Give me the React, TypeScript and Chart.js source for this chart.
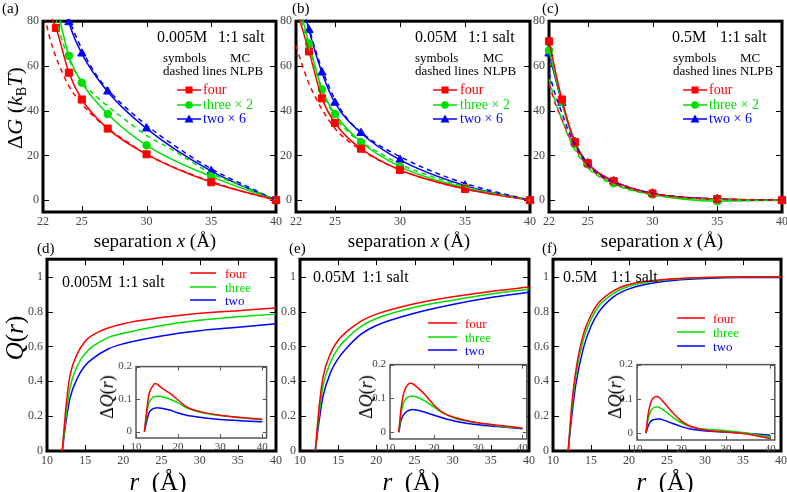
import React, { useEffect, useRef } from 'react';
import { Chart, registerables } from 'chart.js';

Chart.register(...registerables);

const SERIF = '"Liberation Serif", "DejaVu Serif", serif';
const RED = '#ff0000';
const GREEN = '#00dd00';
const BLUE = '#0000ff';
const TICK_COLOR = '#444444';

// ---------- top row: free energy ΔG (kBT) vs separation x ----------
const xMC = [22, 23, 24, 25, 27, 30, 35, 40];
const aFourMC = [88, 77, 57, 45, 32, 20.5, 8, 0];
const aThreeMC = [110, 88, 64.5, 52.5, 38.5, 24.5, 10.5, 0];
const aTwoMC = [130, 105, 79.5, 65.5, 48.5, 32, 13, 0];
const bFourMC = [86, 66.5, 45.5, 34.5, 23, 13.5, 5, 0];
const bThreeMC = [92, 70, 49.5, 38.5, 26, 15, 5.5, 0];
const bTwoMC = [100, 76, 57, 43.5, 30, 18, 6.5, 0];
const cFourMC = [71, 45, 26, 16.5, 8.5, 3, 0.5, 0];
const cThreeMC = [67, 44, 25, 16, 7.5, 2.5, -0.5, 0];
const cTwoMC = [65.5, 43.5, 26, 16.5, 8.5, 3, 0.5, 0];

const xNL = [22, 22.5, 23, 23.5, 24, 25, 26, 27, 28, 30, 32, 35, 38, 40];
const aFourNL = [86, 73, 64, 57, 51, 43, 37, 32, 28, 20.5, 15, 8.3, 3, 0];
const aThreeNL = [105, 92, 81, 71, 63, 53, 47, 42, 37.5, 29, 22.5, 12, 5, 0];
const aTwoNL = [125, 110, 98, 89, 81, 67.5, 57, 49.5, 43.5, 33.5, 25, 14, 5.5, 0];
const bFourNL = [69, 60, 52, 46, 40.5, 32, 26.5, 22.5, 19, 13.5, 9.5, 5, 1.8, 0];
const bThreeNL = [88, 78, 68, 58, 49, 37.5, 30.5, 26, 22.5, 16, 11.5, 6, 2.2, 0];
const bTwoNL = [98, 86, 77, 67, 58.5, 45, 36, 30.5, 26, 19.5, 14, 7.5, 2.8, 0];
const cFourNL = [52, 43, 36, 29, 23.5, 15, 10.5, 7.5, 5.5, 2.8, 1.3, 0.4, 0.1, 0];
const cThreeNL = [54, 44, 36, 28.5, 22.5, 14.5, 10, 7, 5, 2.3, 1, 0.2, 0, 0];
const cTwoNL = [57, 47, 39, 31, 25, 16, 11, 8, 5.8, 3, 1.5, 0.5, 0.1, 0];

const topXTicks = [22, 25, 30, 35, 40];
const topYTicks = [0, 20, 40, 60, 80];

// ---------- bottom row: Q(r) ----------
const rMain = [12, 12.5, 13, 14, 15, 16, 18, 20, 25, 30, 35, 40];
const dFourQ = [0, 0.26, 0.43, 0.56, 0.63, 0.665, 0.705, 0.73, 0.765, 0.79, 0.805, 0.82];
const dThreeQ = [0, 0.2, 0.36, 0.49, 0.56, 0.6, 0.65, 0.675, 0.72, 0.75, 0.77, 0.785];
const dTwoQ = [0, 0.17, 0.3, 0.42, 0.49, 0.53, 0.585, 0.615, 0.66, 0.69, 0.71, 0.73];
const eFourQ = [0, 0.25, 0.42, 0.56, 0.635, 0.68, 0.745, 0.785, 0.845, 0.885, 0.915, 0.94];
const eThreeQ = [0, 0.21, 0.37, 0.51, 0.59, 0.64, 0.715, 0.76, 0.825, 0.865, 0.9, 0.928];
const eTwoQ = [0, 0.17, 0.31, 0.45, 0.53, 0.585, 0.67, 0.72, 0.79, 0.84, 0.88, 0.91];
const fFourQ = [0, 0.28, 0.46, 0.67, 0.78, 0.85, 0.92, 0.955, 0.985, 0.995, 1.0, 1.0];
const fThreeQ = [0, 0.25, 0.43, 0.64, 0.755, 0.83, 0.905, 0.945, 0.982, 0.995, 0.999, 1.0];
const fTwoQ = [0, 0.21, 0.38, 0.59, 0.715, 0.795, 0.885, 0.93, 0.975, 0.99, 0.995, 0.995];

const mainXTicks = [10, 15, 20, 25, 30, 35, 40];
const mainYTicks = [0, 0.2, 0.4, 0.6, 0.8, 1];

// ---------- insets: ΔQ(r) ----------
const rInset = [12, 12.5, 13, 13.5, 14, 14.5, 15, 16, 18, 20, 22, 25, 30, 35, 40];
const dFourDQ = [0, 0.06, 0.11, 0.13, 0.14, 0.148, 0.146, 0.135, 0.118, 0.097, 0.076, 0.062, 0.05, 0.043, 0.038];
const dThreeDQ = [0, 0.05, 0.085, 0.098, 0.105, 0.108, 0.109, 0.108, 0.1, 0.088, 0.073, 0.06, 0.049, 0.042, 0.036];
const dTwoDQ = [0, 0.03, 0.055, 0.065, 0.07, 0.072, 0.073, 0.072, 0.066, 0.057, 0.05, 0.044, 0.037, 0.033, 0.03];
const eFourDQ = [0, 0.07, 0.11, 0.13, 0.14, 0.145, 0.144, 0.135, 0.11, 0.08, 0.058, 0.042, 0.028, 0.02, 0.012];
const eThreeDQ = [0, 0.055, 0.085, 0.097, 0.103, 0.106, 0.107, 0.104, 0.092, 0.074, 0.057, 0.04, 0.027, 0.018, 0.012];
const eTwoDQ = [0, 0.035, 0.05, 0.058, 0.063, 0.066, 0.067, 0.066, 0.059, 0.05, 0.042, 0.032, 0.022, 0.016, 0.01];
const fFourDQ = [0, 0.055, 0.085, 0.1, 0.106, 0.107, 0.104, 0.09, 0.06, 0.035, 0.02, 0.01, 0.003, -0.003, -0.016];
const fThreeDQ = [0, 0.04, 0.062, 0.072, 0.076, 0.077, 0.075, 0.067, 0.047, 0.03, 0.019, 0.012, 0.007, 0.0, -0.012];
const fTwoDQ = [0, 0.02, 0.033, 0.038, 0.04, 0.041, 0.041, 0.038, 0.028, 0.019, 0.012, 0.007, 0.003, -0.001, -0.006];

const insetXTicks = [10, 20, 30, 40];
const insetYTicks = [0, 0.1, 0.2];

// ---------- helpers ----------
type Rect = { l: number; t: number; r: number; b: number };

const pts = (xs: number[], ys: number[]) => xs.map((x, i) => ({ x, y: ys[i] }));

const mcSet = (xs: number[], ys: number[], color: string, style: string, radius: number) => ({
  data: pts(xs, ys),
  borderColor: color,
  backgroundColor: color,
  borderWidth: 1.5,
  pointStyle: style,
  pointRadius: radius,
  pointBorderWidth: 1,
  pointBackgroundColor: color,
  pointBorderColor: color,
  cubicInterpolationMode: 'monotone',
  clip: { left: 8, right: 8, top: 2, bottom: 8 },
});

const dashSet = (xs: number[], ys: number[], color: string) => ({
  data: pts(xs, ys),
  borderColor: color,
  borderWidth: 1.5,
  borderDash: [5, 4],
  pointRadius: 0,
  cubicInterpolationMode: 'monotone',
  clip: { left: 2, right: 2, top: 1, bottom: 2 },
});

const lineSet = (xs: number[], ys: number[], color: string) => ({
  data: pts(xs, ys),
  borderColor: color,
  borderWidth: 1.5,
  pointRadius: 0,
  cubicInterpolationMode: 'monotone',
  clip: { left: 2, right: 2, top: 1, bottom: 2 },
});

const makeFrame = (xTicks: number[], yTicks: number[], inset: boolean) => ({
  id: 'frame',
  beforeDatasetsDraw(chart: any) {
    const { ctx, chartArea: a, scales } = chart;
    ctx.save();
    if (inset) {
      ctx.fillStyle = '#ffffff';
      ctx.fillRect(a.left, a.top, a.right - a.left, a.bottom - a.top);
    }
    const tl = inset ? 4 : 6;
    ctx.strokeStyle = inset ? '#555555' : '#000000';
    ctx.lineWidth = 1;
    ctx.beginPath();
    for (const v of xTicks) {
      const px = Math.round(scales.x.getPixelForValue(v)) + 0.5;
      ctx.moveTo(px, a.bottom);
      ctx.lineTo(px, a.bottom - tl);
      ctx.moveTo(px, a.top);
      ctx.lineTo(px, a.top + tl);
    }
    for (const v of yTicks) {
      const py = Math.round(scales.y.getPixelForValue(v)) + 0.5;
      ctx.moveTo(a.left, py);
      ctx.lineTo(a.left + tl, py);
      ctx.moveTo(a.right, py);
      ctx.lineTo(a.right - tl, py);
    }
    ctx.stroke();
    ctx.lineWidth = inset ? 1.5 : 3;
    ctx.strokeRect(a.left, a.top, a.right - a.left, a.bottom - a.top);
    ctx.restore();
  },
});

interface PanelProps {
  rect: Rect;
  datasets: any[];
  xMin: number;
  xMax: number;
  yMin: number;
  yMax: number;
  xTicks: number[];
  yTicks: number[];
  fmtY: (v: number) => string;
  inset?: boolean;
}

function Panel(p: PanelProps) {
  const ref = useRef<HTMLCanvasElement>(null);
  const inset = !!p.inset;
  const axW = inset ? 26 : 30;
  const axH = inset ? 15 : 20;
  const padT = inset ? 4 : 10;
  const padR = inset ? 4 : 10;
  const W = p.rect.r - p.rect.l + axW + padR;
  const H = p.rect.b - p.rect.t + axH + padT;
  useEffect(() => {
    if (!ref.current) return;
    const font = { family: SERIF, size: inset ? 11 : 12 };
    const chart = new Chart(ref.current, {
      type: 'line',
      data: { datasets: p.datasets },
      options: {
        responsive: false,
        animation: false,
        devicePixelRatio: 1,
        events: [],
        layout: { padding: { left: 0, top: padT, right: padR, bottom: 0 } },
        plugins: { legend: { display: false }, tooltip: { enabled: false } },
        scales: {
          x: {
            type: 'linear',
            min: p.xMin,
            max: p.xMax,
            afterBuildTicks: (s: any) => {
              s.ticks = p.xTicks.map((v) => ({ value: v }));
            },
            afterFit: (s: any) => {
              s.height = axH;
            },
            grid: { display: false, drawTicks: false },
            border: { display: false },
            ticks: {
              font,
              color: TICK_COLOR,
              padding: 3,
              maxRotation: 0,
              autoSkip: false,
              callback: (v: any) => String(v),
            },
          },
          y: {
            type: 'linear',
            min: p.yMin,
            max: p.yMax,
            afterBuildTicks: (s: any) => {
              s.ticks = p.yTicks.map((v) => ({ value: v }));
            },
            afterFit: (s: any) => {
              s.width = axW;
            },
            grid: { display: false, drawTicks: false },
            border: { display: false },
            ticks: {
              font,
              color: TICK_COLOR,
              padding: 4,
              autoSkip: false,
              callback: (v: any) => p.fmtY(Number(v)),
            },
          },
        },
      } as any,
      plugins: [makeFrame(p.xTicks, p.yTicks, inset)],
    });
    return () => chart.destroy();
  }, []);
  return (
    <canvas
      ref={ref}
      width={W}
      height={H}
      style={{ position: 'absolute', left: p.rect.l - axW, top: p.rect.t - padT, width: W, height: H }}
    />
  );
}

const fmtInt = (v: number) => String(v);
const fmtDec = (v: number) => (v === 0 ? '0' : v === 1 ? '1' : v.toFixed(1));

function Txt(props: {
  x: number;
  y: number;
  size: number;
  color?: string;
  center?: boolean;
  rotate?: boolean;
  children: any;
}) {
  const tr = props.rotate
    ? 'translate(-50%,-50%) rotate(-90deg)'
    : props.center
    ? 'translate(-50%,-50%)'
    : 'translateY(-50%)';
  return (
    <div
      style={{
        position: 'absolute',
        left: props.x,
        top: props.y,
        transform: tr,
        fontFamily: SERIF,
        fontSize: props.size,
        lineHeight: 1,
        whiteSpace: 'nowrap',
        color: props.color || '#000',
      }}
    >
      {props.children}
    </div>
  );
}

function MarkerSample(props: { x: number; y: number; color: string; shape: string; w: number }) {
  const { color, shape, w } = props;
  const cx = w / 2;
  let marker: any = null;
  if (shape === 'rect') marker = <rect x={cx - 3.5} y={2.5} width={7} height={7} fill={color} />;
  else if (shape === 'circle') marker = <circle cx={cx} cy={6} r={3.8} fill={color} />;
  else marker = <polygon points={`${cx},1.5 ${cx + 4.5},9.5 ${cx - 4.5},9.5`} fill={color} />;
  return (
    <svg width={w} height={12} style={{ position: 'absolute', left: props.x, top: props.y - 6 }}>
      <line x1={0} y1={6} x2={w} y2={6} stroke={color} strokeWidth={1.5} />
      {marker}
    </svg>
  );
}

function LineSample(props: { x: number; y: number; w: number; color: string }) {
  return (
    <svg width={props.w} height={6} style={{ position: 'absolute', left: props.x, top: props.y - 3 }}>
      <line x1={0} y1={3} x2={props.w} y2={3} stroke={props.color} strokeWidth={1.5} />
    </svg>
  );
}

const topRects: Rect[] = [
  { l: 43, t: 20, r: 276, b: 212 },
  { l: 296, t: 20, r: 530, b: 212 },
  { l: 549, t: 20, r: 782, b: 212 },
];
const botRects: Rect[] = [
  { l: 47, t: 258, r: 276, b: 451 },
  { l: 300, t: 258, r: 529, b: 451 },
  { l: 553, t: 258, r: 781, b: 451 },
];
const insetRects: Rect[] = [
  { l: 136, t: 360, r: 267, b: 438 },
  { l: 390, t: 358, r: 527, b: 439 },
  { l: 637, t: 358, r: 775, b: 440 },
];

const topSets = [
  [
    dashSet(xNL, aFourNL, RED), dashSet(xNL, aThreeNL, GREEN), dashSet(xNL, aTwoNL, BLUE),
    mcSet(xMC, aFourMC, RED, 'rect', 5), mcSet(xMC, aThreeMC, GREEN, 'circle', 3.8), mcSet(xMC, aTwoMC, BLUE, 'triangle', 4.8),
  ],
  [
    dashSet(xNL, bFourNL, RED), dashSet(xNL, bThreeNL, GREEN), dashSet(xNL, bTwoNL, BLUE),
    mcSet(xMC, bFourMC, RED, 'rect', 5), mcSet(xMC, bThreeMC, GREEN, 'circle', 3.8), mcSet(xMC, bTwoMC, BLUE, 'triangle', 4.8),
  ],
  [
    dashSet(xNL, cFourNL, RED), dashSet(xNL, cThreeNL, GREEN), dashSet(xNL, cTwoNL, BLUE),
    mcSet(xMC, cFourMC, RED, 'rect', 5), mcSet(xMC, cThreeMC, GREEN, 'circle', 3.8), mcSet(xMC, cTwoMC, BLUE, 'triangle', 4.8),
  ],
];
const botSets = [
  [lineSet(rMain, dFourQ, RED), lineSet(rMain, dThreeQ, GREEN), lineSet(rMain, dTwoQ, BLUE)],
  [lineSet(rMain, eFourQ, RED), lineSet(rMain, eThreeQ, GREEN), lineSet(rMain, eTwoQ, BLUE)],
  [lineSet(rMain, fFourQ, RED), lineSet(rMain, fThreeQ, GREEN), lineSet(rMain, fTwoQ, BLUE)],
];
const insetSets = [
  [lineSet(rInset, dFourDQ, RED), lineSet(rInset, dThreeDQ, GREEN), lineSet(rInset, dTwoDQ, BLUE)],
  [lineSet(rInset, eFourDQ, RED), lineSet(rInset, eThreeDQ, GREEN), lineSet(rInset, eTwoDQ, BLUE)],
  [lineSet(rInset, fFourDQ, RED), lineSet(rInset, fThreeDQ, GREEN), lineSet(rInset, fTwoDQ, BLUE)],
];

const topTexts = [
  { conc: '0.005M', cx: 157, sx: 218, symX: 163, mcX: 230, legLine: 177, legText: 203 },
  { conc: '0.05M', cx: 415, sx: 468, symX: 415, mcX: 483, legLine: 433, legText: 460 },
  { conc: '0.5M', cx: 672, sx: 720, symX: 673, mcX: 740, legLine: 683, legText: 709 },
];
const botTexts = [
  { conc: '0.005M', cx: 62, sx: 118, ty: 282, lineX: 190, lineW: 26, textX: 225, ys: [273, 287, 300] },
  { conc: '0.05M', cx: 313, sx: 362, ty: 277, lineX: 428, lineW: 29, textX: 465, ys: [323, 337, 350] },
  { conc: '0.5M', cx: 563, sx: 611, ty: 277, lineX: 677, lineW: 28, textX: 713, ys: [318, 332, 346] },
];
const topLabels = ['(a)', '(b)', '(c)'];
const botLabels = ['(d)', '(e)', '(f)'];
const topLabelX = [2, 292, 542];
const botLabelX = [37, 289, 542];
const sepCenters = [155, 409, 662];
const rCenters = [158, 411, 665];
const dqCenters = [107, 366, 615];

export default function App() {
  useEffect(() => {
    document.body.style.margin = '0';
  }, []);
  const legendNames = ['four', 'three × 2', 'two × 6'];
  const legendColors = [RED, GREEN, BLUE];
  const legendShapes = ['rect', 'circle', 'triangle'];
  const legendYs = [90, 105, 119];
  const botNames = ['four', 'three', 'two'];
  return (
    <div style={{ position: 'relative', width: 787, height: 492, overflow: 'hidden', background: '#fff' }}>
      {topRects.map((r, i) => (
        <Panel
          key={'t' + i}
          rect={r}
          datasets={topSets[i]}
          xMin={22}
          xMax={40}
          yMin={-5.3}
          yMax={80}
          xTicks={topXTicks}
          yTicks={topYTicks}
          fmtY={fmtInt}
        />
      ))}
      {botRects.map((r, i) => (
        <Panel
          key={'b' + i}
          rect={r}
          datasets={botSets[i]}
          xMin={10}
          xMax={40}
          yMin={0}
          yMax={1.1}
          xTicks={mainXTicks}
          yTicks={mainYTicks}
          fmtY={fmtDec}
        />
      ))}
      {insetRects.map((r, i) => (
        <Panel
          key={'i' + i}
          rect={r}
          datasets={insetSets[i]}
          xMin={10}
          xMax={41}
          yMin={-0.02}
          yMax={0.2}
          xTicks={insetXTicks}
          yTicks={insetYTicks}
          fmtY={fmtDec}
          inset
        />
      ))}

      {topLabels.map((s, i) => (
        <Txt key={s} x={topLabelX[i]} y={8} size={15}>{s}</Txt>
      ))}
      {botLabels.map((s, i) => (
        <Txt key={s} x={botLabelX[i]} y={248} size={15}>{s}</Txt>
      ))}

      {topTexts.map((t, i) => (
        <React.Fragment key={'tt' + i}>
          <Txt x={t.cx} y={37} size={16}>{t.conc}</Txt>
          <Txt x={t.sx} y={37} size={16}>1:1 salt</Txt>
          <Txt x={t.symX} y={57} size={13}>symbols</Txt>
          <Txt x={t.mcX} y={57} size={13}>MC</Txt>
          <Txt x={t.symX} y={70} size={13}>dashed lines</Txt>
          <Txt x={t.mcX} y={70} size={13}>NLPB</Txt>
          {legendNames.map((n, j) => (
            <React.Fragment key={n}>
              <MarkerSample x={t.legLine} y={legendYs[j]} color={legendColors[j]} shape={legendShapes[j]} w={24} />
              <Txt x={t.legText} y={legendYs[j]} size={14} color={legendColors[j]}>{n}</Txt>
            </React.Fragment>
          ))}
        </React.Fragment>
      ))}

      {botTexts.map((t, i) => (
        <React.Fragment key={'bt' + i}>
          <Txt x={t.cx} y={t.ty} size={16}>{t.conc}</Txt>
          <Txt x={t.sx} y={t.ty} size={16}>1:1 salt</Txt>
          {botNames.map((n, j) => (
            <React.Fragment key={n}>
              <LineSample x={t.lineX} y={t.ys[j]} w={t.lineW} color={legendColors[j]} />
              <Txt x={t.textX} y={t.ys[j]} size={13} color={legendColors[j]}>{n}</Txt>
            </React.Fragment>
          ))}
        </React.Fragment>
      ))}

      {sepCenters.map((cx, i) => (
        <Txt key={'sep' + i} x={cx} y={240} size={19} center>
          separation <i>x</i> (Å)
        </Txt>
      ))}
      {rCenters.map((cx, i) => (
        <Txt key={'r' + i} x={cx} y={481} size={25} center>
          <i>r</i>&nbsp;&nbsp;(Å)
        </Txt>
      ))}
      {dqCenters.map((cx, i) => (
        <Txt key={'dq' + i} x={cx} y={397} size={18} rotate>
          Δ<i>Q</i>(<i>r</i>)
        </Txt>
      ))}
      <Txt x={15} y={108} size={22} rotate>
        Δ<i>G</i> (<i>k</i>
        <span style={{ fontSize: '0.65em', position: 'relative', top: '0.3em' }}>B</span>
        <i>T</i>)
      </Txt>
      <Txt x={14} y={338} size={25} rotate>
        <i>Q</i>(<i>r</i>)
      </Txt>
    </div>
  );
}
